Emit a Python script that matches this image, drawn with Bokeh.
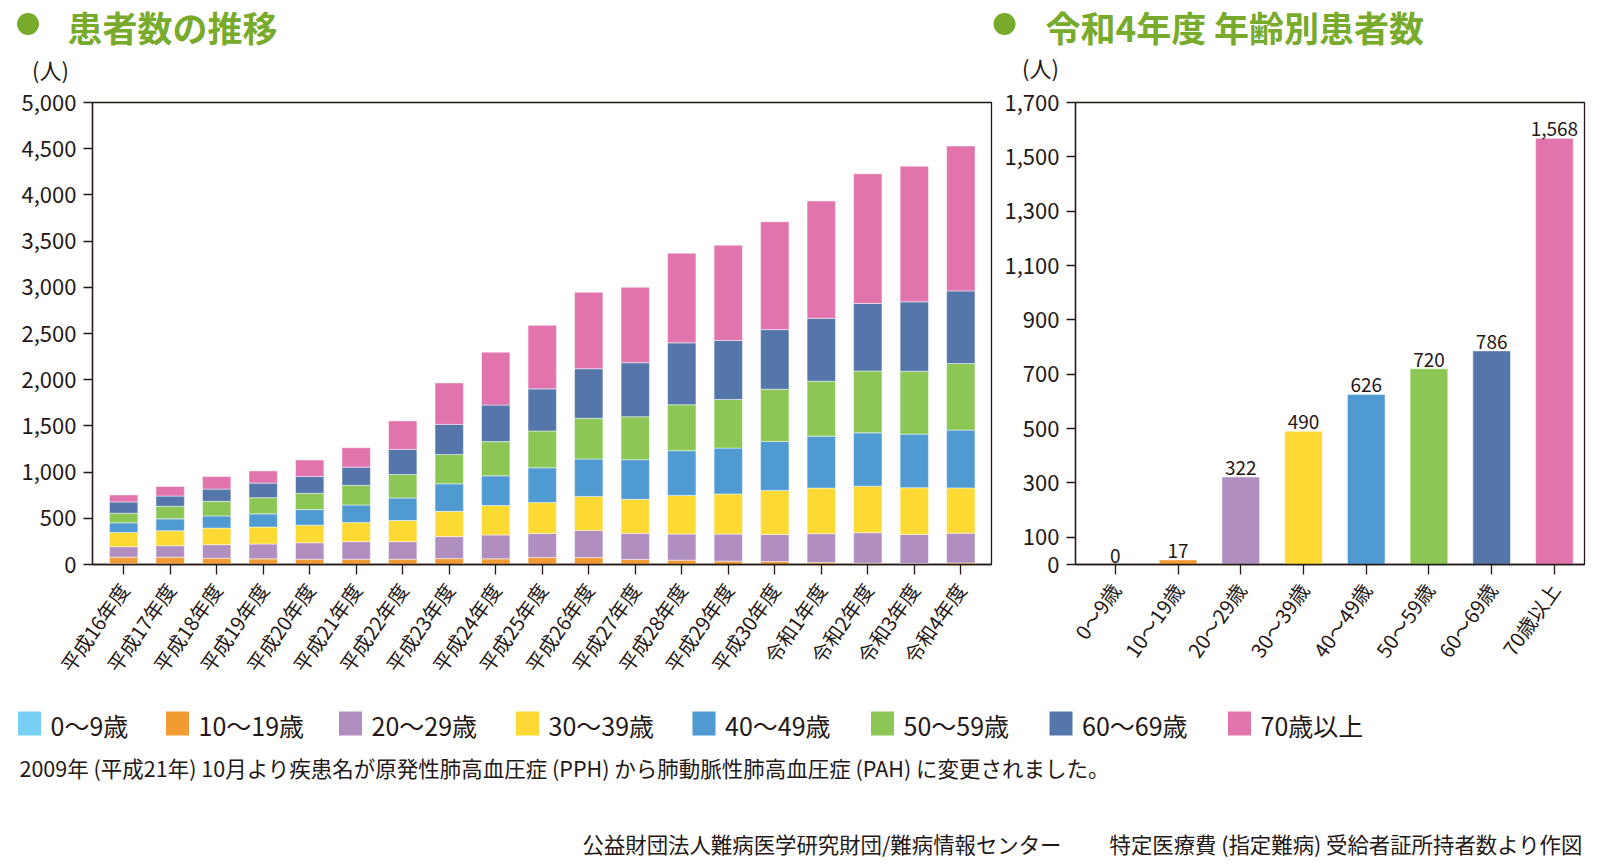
import math
from bokeh.plotting import figure
from bokeh.models import Range1d, FixedTicker, NumeralTickFormatter, ColumnDataSource
from bokeh.layouts import column, row
from bokeh.embed import file_html
from bokeh.resources import INLINE
from bokeh.core.properties import value

FONT = "Noto Sans CJK JP"
INK = "#231815"
GREEN = "#78aa2c"

# ---------------- data ----------------
years = ["平成16年度", "平成17年度", "平成18年度", "平成19年度", "平成20年度",
         "平成21年度", "平成22年度", "平成23年度", "平成24年度", "平成25年度",
         "平成26年度", "平成27年度", "平成28年度", "平成29年度", "平成30年度",
         "令和1年度", "令和2年度", "令和3年度", "令和4年度"]

age_groups = ["0～9歳", "10～19歳", "20～29歳", "30～39歳",
              "40～49歳", "50～59歳", "60～69歳", "70歳以上"]

colors = ["#77cff3", "#f29b32", "#b08fc0", "#fcda33",
          "#4f9bd1", "#8cc654", "#5476aa", "#e274ad"]

age_0_9 = [8, 6, 5, 4, 3, 3, 2, 2, 2, 2, 2, 1, 1, 1, 1, 1, 0, 0, 0]
age_10_19 = [71, 73, 63, 57, 54, 54, 55, 62, 59, 75, 73, 53, 46, 35, 31, 20, 14, 11, 17]
age_20_29 = [114, 125, 147, 161, 179, 190, 190, 238, 259, 258, 294, 283, 282, 293, 294, 312, 330, 315, 322]
age_30_39 = [154, 161, 179, 183, 190, 208, 229, 273, 319, 337, 368, 368, 419, 434, 476, 494, 504, 505, 490]
age_40_49 = [104, 129, 132, 143, 168, 189, 244, 299, 321, 375, 405, 430, 484, 497, 530, 562, 577, 580, 626]
age_50_59 = [104, 136, 158, 175, 176, 212, 254, 316, 370, 398, 440, 465, 497, 526, 565, 594, 669, 680, 720]
age_60_69 = [122, 111, 132, 158, 182, 197, 272, 326, 396, 456, 537, 584, 670, 638, 645, 681, 731, 752, 786]
age_70_plus = [75, 104, 136, 132, 179, 211, 308, 449, 572, 687, 827, 816, 970, 1031, 1167, 1270, 1403, 1468, 1568]

reiwa4_counts = [0, 17, 322, 490, 626, 720, 786, 1568]

left_y_ticks = [0, 500, 1000, 1500, 2000, 2500, 3000, 3500, 4000, 4500, 5000]
right_y_ticks = [0, 100, 300, 500, 700, 900, 1100, 1300, 1500, 1700]

title_left = "患者数の推移"
title_right = "令和4年度 年齢別患者数"
unit_label = "(人)"
note_text = "2009年 (平成21年) 10月より疾患名が原発性肺高血圧症 (PPH) から肺動脈性肺高血圧症 (PAH) に変更されました。"
source_1 = "公益財団法人難病医学研究財団/難病情報センター"
source_2 = "特定医療費 (指定難病) 受給者証所持者数より作図"

series = [age_0_9, age_10_19, age_20_29, age_30_39, age_40_49, age_50_59, age_60_69, age_70_plus]
keys = ["a%d" % i for i in range(len(age_groups))]

LABEL_ANGLE = math.radians(55)
HDR_H = 85            # header height (page y 0..85)
CHART_H = 603         # chart row height (page y 85..688)
TOP_PAD = 102 - HDR_H  # plot frame top at page y 102


def blank(width, height, x0, x1, y0, y1):
    f = figure(width=width, height=height, x_range=Range1d(x0, x1), y_range=Range1d(y0, y1),
               output_backend="svg", toolbar_location=None, min_border=0,
               x_axis_location=None, y_axis_location=None)
    f.grid.visible = False
    f.outline_line_color = None
    return f


def style_axes(p):
    for ax in p.xaxis + p.yaxis:
        ax.axis_line_color = INK
        ax.axis_line_width = 1.3
        ax.major_tick_line_color = INK
        ax.major_tick_line_width = 1.3
        ax.major_tick_in = 0
        ax.minor_tick_line_color = None
        ax.major_label_text_font = FONT
        ax.major_label_text_color = INK
    p.yaxis.major_tick_out = 9
    p.yaxis.major_label_text_font_size = "22px"
    p.yaxis.major_label_standoff = 7
    p.xaxis.major_tick_out = 10
    p.xaxis.major_label_text_font_size = "20px"
    p.xaxis.major_label_orientation = LABEL_ANGLE
    p.xaxis.major_label_standoff = 11
    p.grid.visible = False
    p.outline_line_color = INK
    p.outline_line_width = 1.3


# ---------------- header ----------------
hdr = blank(1592, HDR_H, 0, 1592, HDR_H, 0)
hdr.scatter(x=[27.5, 1004], y=[23.5, 23.5], size=22, color=GREEN, line_color=None)
hdr.text(x=[67, 1045], y=[25.5, 25.5], text=[title_left, title_right],
         text_font=value(FONT), text_font_size="35px", text_font_style="bold",
         text_color=GREEN, text_baseline="middle", text_align="left")
hdr.text(x=[50, 1040], y=[68.5, 66], text=[unit_label, unit_label],
         text_font=value(FONT), text_font_size="22px", text_color=INK,
         text_baseline="middle", text_align="center")

# ---------------- left stacked chart ----------------
data = {"x": list(range(len(years)))}
for k, s in zip(keys, series):
    data[k] = s
src = ColumnDataSource(data)

left = figure(width=1000, height=CHART_H, x_range=Range1d(-0.67, 18.66), y_range=Range1d(0, 5000),
              output_backend="svg", toolbar_location=None,
              min_border_left=92, min_border_right=9, min_border_top=TOP_PAD, min_border_bottom=122)
left.vbar_stack(keys, x="x", width=0.61, color=colors, source=src,
                line_color="white", line_width=0.8, line_alpha=0.6)
style_axes(left)
left.yaxis.ticker = FixedTicker(ticks=left_y_ticks)
left.yaxis.formatter = NumeralTickFormatter(format="0,0")
left.xaxis.ticker = FixedTicker(ticks=list(range(len(years))))
left.xaxis.major_label_overrides = {i: y for i, y in enumerate(years)}

# ---------------- right bar chart ----------------
rsrc = ColumnDataSource({
    "x": list(range(len(age_groups))),
    "v": reiwa4_counts,
    "c": colors,
    "lbl": ["{:,}".format(v) for v in reiwa4_counts],
})
right = figure(width=592, height=CHART_H, x_range=Range1d(-0.635, 7.48), y_range=Range1d(0, 1700),
               output_backend="svg", toolbar_location=None,
               min_border_left=75, min_border_right=8, min_border_top=TOP_PAD, min_border_bottom=122)
right.vbar(x="x", top="v", width=0.6, color="c", source=rsrc,
           line_color="white", line_width=0.8, line_alpha=0.6)
right.text(x="x", y="v", text="lbl", source=rsrc, y_offset=-2,
           text_font=value(FONT), text_font_size="19px", text_color=INK,
           text_align="center", text_baseline="bottom")
style_axes(right)
right.yaxis.ticker = FixedTicker(ticks=right_y_ticks)
right.yaxis.formatter = NumeralTickFormatter(format="0,0")
right.xaxis.ticker = FixedTicker(ticks=list(range(len(age_groups))))
right.xaxis.major_label_overrides = {i: a for i, a in enumerate(age_groups)}

# ---------------- legend + notes (page y 688..860) ----------------
ftr = blank(1592, 172, 0, 1592, 860, 688)
sq_x = [29, 177, 350, 527, 703.5, 882, 1060.5, 1239]
ftr.rect(x=sq_x, y=[723] * 8, width=23, height=24, fill_color=colors, line_color=None)
ftr.text(x=[x + 21 for x in sq_x], y=[724] * 8, text=age_groups,
         text_font=value(FONT), text_font_size="25px", text_color=INK,
         text_baseline="middle", text_align="left")
ftr.text(x=[19], y=[767], text=[note_text],
         text_font=value(FONT), text_font_size="21.5px", text_color=INK,
         text_baseline="middle", text_align="left")
ftr.text(x=[582, 1109], y=[843, 843], text=[source_1, source_2],
         text_font=value(FONT), text_font_size="21.4px", text_color=INK,
         text_baseline="middle", text_align="left")

layout = column(hdr, row(left, right), ftr)
open("out.html", "w").write(file_html(layout, INLINE))
